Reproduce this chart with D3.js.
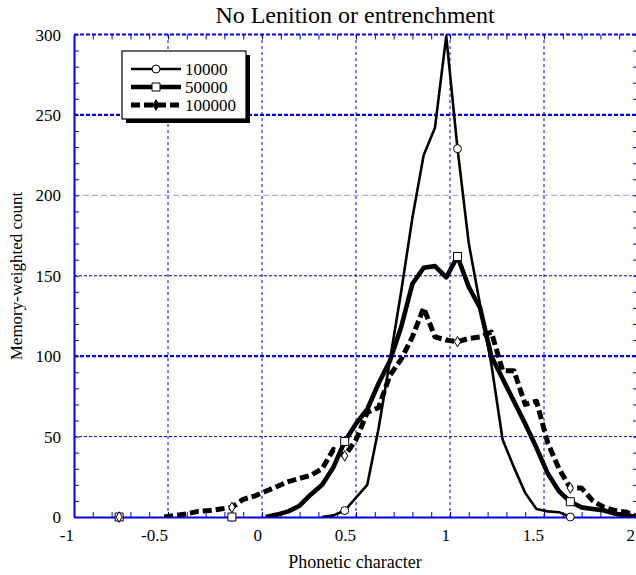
<!DOCTYPE html>
<html><head><meta charset="utf-8">
<script src="https://cdn.jsdelivr.net/npm/d3@7/dist/d3.min.js"></script>
<style>
html,body{margin:0;padding:0;background:#fff;}
svg{display:block;font-family:"Liberation Serif","Times New Roman",serif;}
</style></head>
<body><svg id="c" width="636" height="575"></svg>
<script>
const phonetic = [-1.00,-0.94,-0.88,-0.82,-0.76,-0.70,-0.64,-0.58,-0.52,-0.46,-0.40,-0.34,-0.28,-0.22,-0.16,-0.10,-0.04,0.02,0.08,0.14,0.20,0.26,0.32,0.38,0.44,0.50,0.56,0.62,0.68,0.74,0.80,0.86,0.92,0.98,1.04,1.10,1.16,1.22,1.28,1.34,1.40,1.46,1.52,1.58,1.64,1.70,1.76,1.82,1.88,1.94,2.00];
const count10000 = [0,0,0,0,0,0,0,0,0,0,0,0,0,0,0,0,0,0,0,0,0,0,0,1,4,12,20,55,97,140,186,225,242,299,229,170,132,95,48,31,15,5,3.5,3,0,0,0,0,0,0,0];
const count50000 = [0,0,0,0,0,0,0,0,0,0,0,0,0,0,0,0,0,0,1.5,3.5,7,14,20,31,47,58,67,83,97,118,145,155,156,149,162,143,130,100,86,72,58,43,27,16,9.5,6,5,4,2,1,0];
const count100000 = [0,0,0,0,0,0,0,0,0,1,2,3.5,4,5,6,11,13,16,19,22,24,26,30,42,38,48,65,68,88,98,112,130,112,110,109,111,112,115,91,91,70,72,46,30,18,18,10,6,4,3,0];
const markerX = [-0.76,-0.16,0.44,1.04,1.64];
const seriesNames = ["10000","50000","100000"];
const xTickLabels = ["-1","-0.5","0","0.5","1","1.5","2"];
const yTickLabels = ["0","50","100","150","200","250","300"];
const title = "No Lenition or entrenchment";
const xTitle = "Phonetic character";
const yTitle = "Memory-weighted count";

const series = [
  {name: seriesNames[0], values: count10000, width: 2.6, dash: null, marker: "circle"},
  {name: seriesNames[1], values: count50000, width: 4.6, dash: null, marker: "square"},
  {name: seriesNames[2], values: count100000, width: 5, dash: "9,4", marker: "diamond"}
];

const svg = d3.select("#c");
const L = 74, R = 638, T = 34.5, B = 517;
const x = d3.scaleLinear().domain([-1, 2]).range([L, R]);
const y = d3.scaleLinear().domain([0, 300]).range([B, T]);
const blue = "#0000ee";

// gridlines
const gx = svg.append("g");
[-0.5, 0, 0.5, 1, 1.5].forEach(v => {
  gx.append("line").attr("x1", x(v)).attr("x2", x(v)).attr("y1", B).attr("y2", T)
    .attr("stroke", blue).attr("stroke-width", 1).attr("stroke-dasharray", "3,3");
});
const hStyle = {50: ["#0000cc",1,"3,2"], 100: [blue,2.2,"4,2"], 150: ["#0000cc",1,"3,2"], 200: ["#9a9ae8",1,"6,3"], 250: [blue,2.2,"4,2"], 300: [blue,2.2,"4,2"]};
[50,100,150,200,250,300].forEach(v => {
  const s = hStyle[v];
  gx.append("line").attr("x1", L).attr("x2", R).attr("y1", y(v)).attr("y2", y(v))
    .attr("stroke", s[0]).attr("stroke-width", s[1]).attr("stroke-dasharray", s[2]);
});

// axes with inward minor ticks
const xt = d3.range(-1, 2.0001, 0.1);
const yt = d3.range(0, 300.001, 10);
svg.append("g").attr("transform", `translate(0,${B})`)
  .call(d3.axisBottom(x).tickValues(xt).tickSize(-5).tickSizeOuter(0).tickFormat(""))
  .call(g => g.selectAll("line").attr("stroke", blue))
  .call(g => g.select(".domain").attr("stroke", blue).attr("stroke-width", 2));
svg.append("g").attr("transform", `translate(0,${T})`)
  .call(d3.axisTop(x).tickValues(xt).tickSize(-5).tickSizeOuter(0).tickFormat(""))
  .call(g => g.selectAll("line").attr("stroke", blue))
  .call(g => g.select(".domain").remove());
svg.append("g").attr("transform", `translate(${L},0)`)
  .call(d3.axisLeft(y).tickValues(yt).tickSize(-5).tickSizeOuter(0).tickFormat(""))
  .call(g => g.selectAll("line").attr("stroke", blue))
  .call(g => g.select(".domain").attr("stroke", blue).attr("stroke-width", 2));
svg.append("g").attr("transform", `translate(${R},0)`)
  .call(d3.axisRight(y).tickValues(yt).tickSize(-5).tickSizeOuter(0).tickFormat(""))
  .call(g => g.selectAll("line").attr("stroke", blue))
  .call(g => g.select(".domain").attr("stroke", blue).attr("stroke-width", 2));

// tick labels
xTickLabels.forEach(t => {
  svg.append("text").attr("x", Math.min(x(+t), 635)).attr("y", 541).attr("text-anchor", "end")
    .attr("font-size", 17).attr("fill", "#000").text(t);
});
yTickLabels.forEach(t => {
  svg.append("text").attr("x", 61).attr("y", y(+t) + 6).attr("text-anchor", "end")
    .attr("font-size", 17).attr("fill", "#000").text(t);
});

// titles
svg.append("text").attr("x", 355).attr("y", 23).attr("text-anchor", "middle")
  .attr("font-size", 24).text(title);
svg.append("text").attr("x", 355).attr("y", 568).attr("text-anchor", "middle")
  .attr("font-size", 18).text(xTitle);
svg.append("text").attr("transform", "translate(22,276) rotate(-90)").attr("text-anchor", "middle")
  .attr("font-size", 17).text(yTitle);

// clip
svg.append("clipPath").attr("id", "clip").append("rect")
  .attr("x", L).attr("y", T - 2).attr("width", R - L).attr("height", B - T + 2);
const plot = svg.append("g").attr("clip-path", "url(#clip)");

series.forEach(s => {
  const pts = phonetic.map((p, i) => ({x: p, v: s.values[i], i}));
  const vals = s.values;
  const line = d3.line()
    .defined(d => vals[d.i] > 0 || (d.i > 0 && vals[d.i-1] > 0) || (d.i < vals.length-1 && vals[d.i+1] > 0))
    .x(d => x(d.x)).y(d => y(d.v));
  plot.append("path").datum(pts).attr("d", line).attr("fill", "none")
    .attr("stroke", "#000").attr("stroke-width", s.width)
    .attr("stroke-linejoin", "round")
    .attr("stroke-dasharray", s.dash);
});

// markers
const markerShapes = {circle: d3.symbolCircle, square: d3.symbolSquare, diamond: d3.symbolDiamond};
const markerSizes = {circle: 50, square: 64, diamond: 32};
series.forEach(s => {
  markerX.forEach(mx => {
    const i = phonetic.findIndex(p => Math.abs(p - mx) < 1e-6);
    svg.append("path").attr("d", d3.symbol().type(markerShapes[s.marker]).size(markerSizes[s.marker])())
      .attr("transform", `translate(${x(mx)},${y(s.values[i])})`)
      .attr("fill", "#fff").attr("stroke", "#000").attr("stroke-width", 1);
  });
});

// legend
const lg = svg.append("g");
lg.append("rect").attr("x", 126).attr("y", 55).attr("width", 124).attr("height", 68).attr("fill", "#000");
lg.append("rect").attr("x", 122).attr("y", 51).attr("width", 124).attr("height", 68)
  .attr("fill", "#fff").attr("stroke", "#000").attr("stroke-width", 1.2);
series.forEach((s, j) => {
  const yy = 69 + j * 18;
  lg.append("line").attr("x1", 131).attr("x2", 181).attr("y1", yy).attr("y2", yy)
    .attr("stroke", "#000").attr("stroke-width", s.width).attr("stroke-dasharray", s.dash);
  lg.append("path").attr("d", d3.symbol().type(markerShapes[s.marker]).size(markerSizes[s.marker])())
    .attr("transform", `translate(156,${yy})`).attr("fill", s.marker === "diamond" ? "#000" : "#fff").attr("stroke", "#000").attr("stroke-width", 1);
  lg.append("text").attr("x", 185).attr("y", yy + 6).attr("font-size", 17).text(s.name);
});
</script></body></html>
